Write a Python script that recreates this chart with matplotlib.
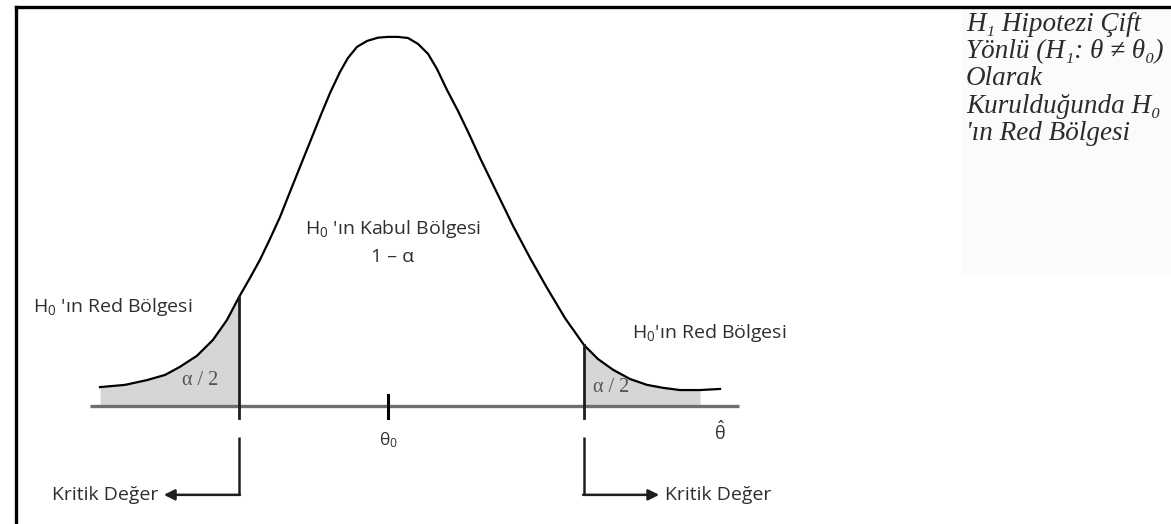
import numpy as np
import matplotlib.pyplot as plt
from matplotlib.patches import Rectangle

# Sampling distribution of the estimator under H0 (theta in sigma units, theta0 = 0),
# height relative to the peak. Read off point by point, not a fitted density.
curve_theta = [-3.064, -2.798, -2.564, -2.372, -2.213, -2.032, -1.862, -1.713, -1.585,
               -1.468, -1.362, -1.255, -1.149, -1.043, -0.936, -0.830, -0.723, -0.617,
               -0.511, -0.426, -0.330, -0.223, -0.106, 0.0, 0.106, 0.213, 0.319, 0.426,
               0.521, 0.628, 0.745, 0.862, 0.979, 1.160, 1.330, 1.511, 1.691, 1.883,
               2.085, 2.234, 2.394, 2.574, 2.755, 2.926, 3.106, 3.319, 3.532]
curve_height = [0.051, 0.057, 0.070, 0.084, 0.106, 0.136, 0.179, 0.233, 0.295,
                0.347, 0.396, 0.453, 0.512, 0.580, 0.648, 0.715, 0.783, 0.848,
                0.905, 0.943, 0.973, 0.989, 0.998, 1.000, 1.000, 0.997, 0.981, 0.954,
                0.913, 0.856, 0.799, 0.737, 0.672, 0.577, 0.488, 0.401, 0.320, 0.238,
                0.165, 0.127, 0.098, 0.073, 0.057, 0.049, 0.043, 0.043, 0.046]

THETA0 = 0.0
CRIT_LOW = -1.585    # lower critical value
CRIT_HIGH = 2.085    # upper critical value

LABEL_REJECT = r"H$_0$ 'ın Red Bölgesi"
LABEL_REJECT_R = r"H$_0$'ın Red Bölgesi"
LABEL_ACCEPT = r"H$_0$ 'ın Kabul Bölgesi"
LABEL_ONE_MINUS = "1 – α"
LABEL_HALF_ALPHA = "α / 2"
LABEL_CRIT = "Kritik Değer"
SIDE_NOTE = ["H₁ Hipotezi Çift",
             "Yönlü (H₁: θ ≠ θ₀)",
             "Olarak",
             "Kurulduğunda H₀",
             "'ın Red Bölgesi"]

# ------------------------------------------------------------
# styling
# ------------------------------------------------------------
SANS = 'Open Sans'
plt.rcParams['font.family'] = [SANS, 'DejaVu Sans']
plt.rcParams['mathtext.fontset'] = 'custom'
plt.rcParams['mathtext.rm'] = SANS
plt.rcParams['mathtext.it'] = SANS + ':italic'
plt.rcParams['mathtext.bf'] = SANS + ':bold'

TEXT_COLOR = '#2e2e2e'
SHADE_COLOR = '#d6d6d6'
AXIS_COLOR = '#6e6e6e'
LINE_COLOR = '#1e1e1e'

fig = plt.figure(figsize=(11.71, 5.24), dpi=100)
ax = fig.add_axes([0, 0, 1, 1])
ax.set_xlim(-4.128, 8.33)
ax.set_ylim(-0.320, 1.100)
ax.axis('off')

theta = np.array(curve_theta)
height = np.array(curve_height)

# frame around the figure (left and top edges)
ax.plot([0.0137, 0.0137], [0.0, 0.9866], transform=ax.transAxes,
        color='black', lw=2.4, solid_capstyle='projecting')
ax.plot([0.0137, 1.0], [0.9866, 0.9866], transform=ax.transAxes,
        color='black', lw=2.4, solid_capstyle='projecting')

# faint panel behind the side note
ax.add_patch(Rectangle((6.11, 0.355), 3.0, 0.72, facecolor='#fbfbfb',
                       edgecolor='none', zorder=0))

# rejection regions
low = theta <= CRIT_LOW + 1e-9
high = theta >= CRIT_HIGH - 1e-9
ax.fill_between(theta[low], 0, height[low], color=SHADE_COLOR, lw=0, zorder=1)
ax.fill_between(theta[high][:-1], 0, height[high][:-1], color=SHADE_COLOR, lw=0, zorder=1)

# horizontal axis
ax.plot([-3.17, 3.73], [0, 0], color=AXIS_COLOR, lw=2.4, zorder=2, solid_capstyle='butt')

# density curve
ax.plot(theta, height, color='black', lw=1.6, zorder=3, solid_joinstyle='round')

# critical value lines
h_low = height[np.argmin(np.abs(theta - CRIT_LOW))]
h_high = height[np.argmin(np.abs(theta - CRIT_HIGH))]
ax.plot([CRIT_LOW, CRIT_LOW], [-0.033, h_low], color=LINE_COLOR, lw=2.0, zorder=4)
ax.plot([CRIT_HIGH, CRIT_HIGH], [-0.033, h_high], color=LINE_COLOR, lw=2.0, zorder=4)

# theta0 tick
ax.plot([THETA0, THETA0], [-0.033, 0.030], color='black', lw=2.2, zorder=4)

# arrows pointing to the critical value labels
for crit, direction in [(CRIT_LOW, -1), (CRIT_HIGH, 1)]:
    ax.plot([crit, crit], [-0.084, -0.241], color=LINE_COLOR, lw=1.8,
            solid_capstyle='butt')
    ax.annotate('', xy=(crit + direction * 0.80, -0.241), xytext=(crit - direction * 0.01, -0.241),
                arrowprops=dict(arrowstyle='-|>', color=LINE_COLOR, lw=1.8,
                                mutation_scale=16, shrinkA=0, shrinkB=0))

# labels
fs = 14
ax.text(0.05, 0.48, LABEL_ACCEPT, ha='center', va='center', fontsize=fs, color=TEXT_COLOR)
ax.text(0.05, 0.404, LABEL_ONE_MINUS, ha='center', va='center', fontsize=fs,
        color=TEXT_COLOR, family=[SANS, 'Liberation Serif'])
ax.text(-3.78, 0.268, LABEL_REJECT, ha='left', va='center', fontsize=fs, color=TEXT_COLOR)
ax.text(2.60, 0.198, LABEL_REJECT_R, ha='left', va='center', fontsize=fs, color=TEXT_COLOR)

ax.text(-2.0, 0.068, LABEL_HALF_ALPHA, ha='center', va='center', fontsize=14.5,
        color='#555555', family='Liberation Serif')
ax.text(2.37, 0.050, LABEL_HALF_ALPHA, ha='center', va='center', fontsize=14.5,
        color='#555555', family='Liberation Serif')

ax.text(THETA0, -0.094, r"θ$_0$", ha='center', va='center', fontsize=12.5,
        color=TEXT_COLOR)
ax.text(3.53, -0.072, r"$\hat{\mathrm{θ}}$", ha='center', va='center', fontsize=13,
        color=TEXT_COLOR)

ax.text(CRIT_LOW - 0.86, -0.241, LABEL_CRIT, ha='right', va='center', fontsize=fs,
        color=TEXT_COLOR)
ax.text(CRIT_HIGH + 0.86, -0.241, LABEL_CRIT, ha='left', va='center', fontsize=fs,
        color=TEXT_COLOR)

# side note in italic serif
ax.text(6.15, 1.068, "\n".join(SIDE_NOTE), ha='left', va='top', fontsize=19.5,
        style='italic', color='#2b2b2b', linespacing=1.12,
        family=['Liberation Serif', 'DejaVu Serif'])

fig.savefig('out.png', dpi=100)
